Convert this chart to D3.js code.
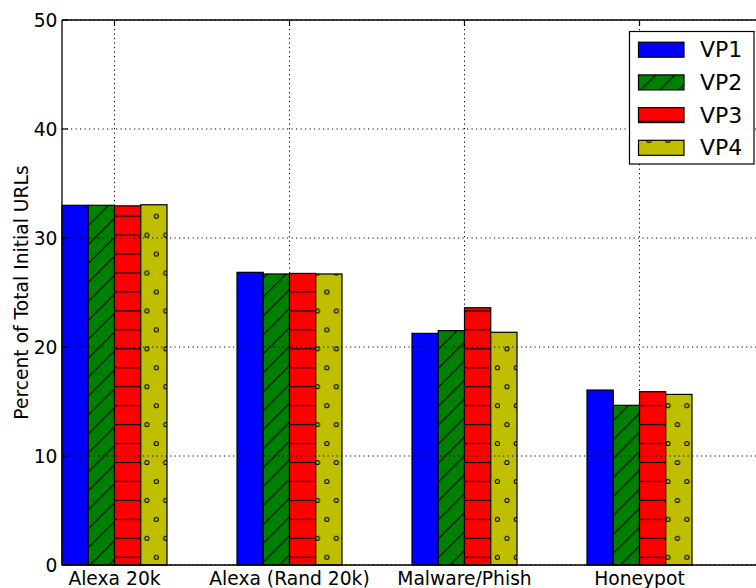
<!DOCTYPE html>
<html><head><meta charset="utf-8">
<script src="https://cdn.jsdelivr.net/npm/d3@7"></script>
<style>body{margin:0;background:#fff}svg{display:block}text{font-family:"DejaVu Sans",sans-serif;fill:#000}</style>
</head><body>
<script>
const categories = ["Alexa 20k", "Alexa (Rand 20k)", "Malware/Phish", "Honeypot"];
const seriesNames = ["VP1", "VP2", "VP3", "VP4"];
const vp1 = [33.0, 26.85, 21.25, 16.05];
const vp2 = [33.0, 26.7, 21.5, 14.65];
const vp3 = [32.95, 26.75, 23.6, 15.9];
const vp4 = [33.05, 26.7, 21.35, 15.65];
const yTicks = [0, 10, 20, 30, 40, 50];
const yLabel = "Percent of Total Initial URLs";

(function () {
const seriesValues = [vp1, vp2, vp3, vp4];
const colors = ["#0000ff", "#008000", "#ff0000", "#bfbf00"];
const fills = ["#0000ff", "url(#hatchDiag)", "url(#hatchHoriz)", "url(#hatchDots)"];

const W = 756, H = 588;
const pLeft = 62, pTop = 20, pBottom = 565;
const barW = 0.15;
const x = d3.scaleLinear().domain([0, 4]).range([pLeft, pLeft + 700]);
const y = d3.scaleLinear().domain([0, 50]).range([pBottom, pTop]);

const svg = d3.select("body").append("svg").attr("width", W).attr("height", H);
const defs = svg.append("defs");
const s = 18.95;

// green diagonal hatch
const pd = defs.append("pattern").attr("id", "hatchDiag").attr("patternUnits", "userSpaceOnUse")
  .attr("width", s).attr("height", s).attr("x", 3).attr("y", 7.7);
pd.append("rect").attr("width", s).attr("height", s).attr("fill", colors[1]);
pd.append("path").attr("d", `M${-s},${s} L${s},${-s} M0,${s*2} L${s*2},0 M${-1},${s+1} L${s+1},${-1}`)
  .attr("stroke", "#000").attr("stroke-width", 1.1).attr("fill", "none");

// red horizontal hatch
const ph = defs.append("pattern").attr("id", "hatchHoriz").attr("patternUnits", "userSpaceOnUse")
  .attr("width", s).attr("height", s).attr("x", 0).attr("y", 7.7 - s / 2);
ph.append("rect").attr("width", s).attr("height", s).attr("fill", colors[2]);
ph.append("line").attr("x1", -1).attr("x2", s + 1).attr("y1", s / 2).attr("y2", s / 2)
  .attr("stroke", "#000").attr("stroke-width", 1.2);

// yellow dots hatch
const pc = defs.append("pattern").attr("id", "hatchDots").attr("patternUnits", "userSpaceOnUse")
  .attr("width", s).attr("height", 2 * s).attr("x", 4.7 - s / 2).attr("y", 7.7 - s / 2);
pc.append("rect").attr("width", s).attr("height", 2 * s).attr("fill", colors[3]);
[[0, s / 2], [s, s / 2], [s / 2, 1.5 * s]].forEach(([cx, cy]) => {
  pc.append("circle").attr("cx", cx).attr("cy", cy).attr("r", 2.1)
    .attr("fill", "none").attr("stroke", "#000").attr("stroke-width", 1);
});

// bars
seriesValues.forEach((vals, j) => {
  svg.append("g").selectAll("rect").data(vals).join("rect")
    .attr("x", (d, i) => x(i + j * barW))
    .attr("width", (d, i) => x(i + (j + 1) * barW) - x(i + j * barW))
    .attr("y", d => y(d))
    .attr("height", d => y(0) - y(d))
    .attr("fill", fills[j])
    .attr("stroke", "#000").attr("stroke-width", 1.2);
});

// grid (on top)
const grid = svg.append("g").attr("stroke", "#000").attr("stroke-width", 1).attr("stroke-dasharray", "1.2,3.3");
yTicks.forEach(t => {
  grid.append("line").attr("x1", pLeft).attr("x2", W).attr("y1", y(t)).attr("y2", y(t));
});
categories.forEach((c, i) => {
  const cx = x(i + 2 * barW);
  grid.append("line").attr("x1", cx).attr("x2", cx).attr("y1", pTop).attr("y2", pBottom);
});

// spines
svg.append("line").attr("x1", pLeft).attr("x2", pLeft).attr("y1", pTop).attr("y2", pBottom).attr("stroke", "#000").attr("stroke-width", 1.3);
svg.append("line").attr("x1", pLeft).attr("x2", W).attr("y1", pTop).attr("y2", pTop).attr("stroke", "#000").attr("stroke-width", 1.3);
svg.append("line").attr("x1", pLeft).attr("x2", W).attr("y1", pBottom).attr("y2", pBottom).attr("stroke", "#000").attr("stroke-width", 1.3);

// ticks
const ticksG = svg.append("g").attr("stroke", "#000").attr("stroke-width", 1.2);
yTicks.forEach(t => {
  ticksG.append("line").attr("x1", pLeft).attr("x2", pLeft + 6).attr("y1", y(t)).attr("y2", y(t));
});
categories.forEach((c, i) => {
  const cx = x(i + 2 * barW);
  ticksG.append("line").attr("x1", cx).attr("x2", cx).attr("y1", pTop).attr("y2", pTop + 6);
  ticksG.append("line").attr("x1", cx).attr("x2", cx).attr("y1", pBottom).attr("y2", pBottom - 6);
});

// tick labels
const fs = 18.7;
svg.append("g").selectAll("text").data(yTicks).join("text")
  .attr("x", 57.5).attr("y", d => y(d) + fs * 0.365)
  .attr("text-anchor", "end").attr("font-size", fs).text(d => d);
svg.append("g").selectAll("text").data(categories).join("text")
  .attr("x", (d, i) => x(i + 2 * barW)).attr("y", 585)
  .attr("text-anchor", "middle").attr("font-size", fs).text(d => d);

// y label
svg.append("text").attr("transform", `translate(28,${(pTop + pBottom) / 2}) rotate(-90)`)
  .attr("text-anchor", "middle").attr("font-size", fs).text(yLabel);

// legend
const lg = svg.append("g");
lg.append("rect").attr("x", 629.5).attr("y", 31.5).attr("width", 124.5).attr("height", 132.5)
  .attr("fill", "#fff").attr("stroke", "#000").attr("stroke-width", 1.2);
seriesNames.forEach((n, j) => {
  const cy = 49.7 + j * 32.7;
  lg.append("rect").attr("x", 638.5).attr("y", cy - 7.5).attr("width", 45.5).attr("height", 15)
    .attr("fill", fills[j]).attr("stroke", "#000").attr("stroke-width", 1.2);
  lg.append("text").attr("x", 700).attr("y", cy + 7.5).attr("font-size", 22).text(n);
});
})();
</script>
</body></html>
